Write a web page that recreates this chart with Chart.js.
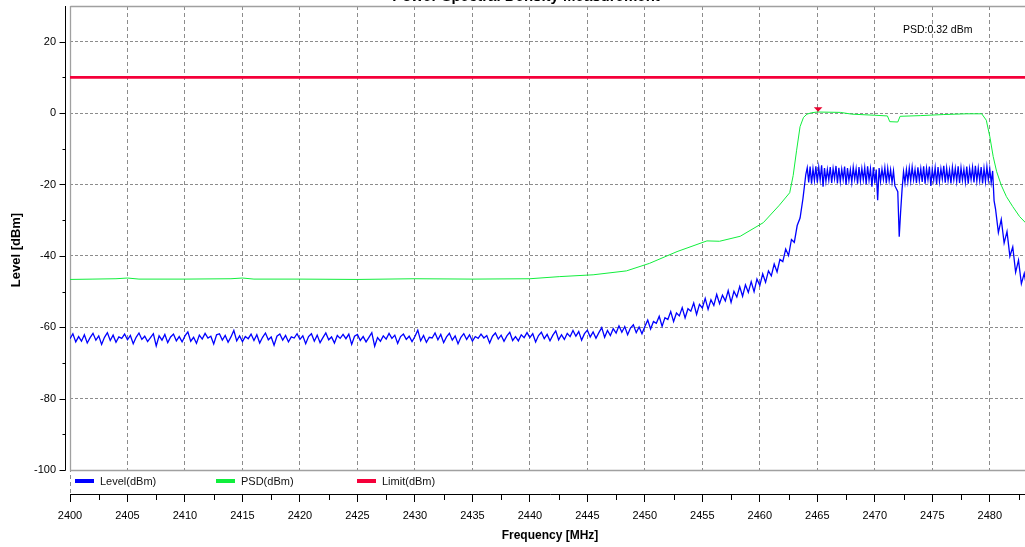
<!DOCTYPE html>
<html>
<head>
<meta charset="utf-8">
<title>Power Spectral Density Measurement</title>
<script src="https://cdn.jsdelivr.net/npm/chart.js@4.4.1/dist/chart.umd.min.js"></script>
<style>
  html, body { margin: 0; padding: 0; background: #fff; overflow: hidden; }
</style>
</head>
<body>
<canvas id="psd" width="1030" height="547"></canvas>
<script>
// sweep grid (MHz) for the Level trace: coarse on the skirts, finer in-band
const floorStart = 2400, floorStep = 0.25;
const bandStart = 2464, bandStep = 0.125;
const tailStart = 2480.5, tailStep = 0.25;

// Level(dBm), 2400 .. 2463.75, four readings per MHz
const floorLevel = [
  -63.2,-61.8,-64.1,-62.6, -63.9,-62.1,-64.4,-62.9, -61.7,-63.6,-62.4,-64.8, -62.8,-61.5,-63.7,-62.2, -64.2,-62.7,-63.1,-61.9, // 2400
  -63.5,-62.3,-64.6,-62.8, -61.6,-63.4,-62.5,-64.0, -62.9,-61.8,-65.2,-62.4, -63.6,-62.0,-64.3,-62.7, -61.9,-63.8,-62.6,-64.1, // 2405
  -62.4,-61.3,-63.9,-62.8, -64.5,-62.2,-63.3,-61.7, -63.0,-62.5,-64.7,-62.1, -61.8,-63.6,-62.3,-64.2, -62.7,-60.9,-63.8,-62.4, // 2410
  -64.0,-62.6,-63.2,-61.9, -63.7,-62.1,-64.4,-62.8, -61.6,-63.5,-62.7,-65.0, -62.5,-61.9,-63.6,-62.3, -64.1,-62.7,-63.0,-61.8, // 2415
  -63.4,-62.4,-64.6,-62.6, -61.8,-63.9,-62.2,-64.3, -62.9,-61.6,-63.5,-62.7, -64.4,-62.3,-63.1,-62.0, -63.2,-61.9,-64.8,-62.5, // 2420
  -62.0,-63.7,-62.6,-64.1, -62.8,-61.5,-65.3,-62.9, -63.9,-62.4,-63.3,-61.7, -63.1,-62.2,-64.5,-62.6, -61.9,-63.4,-62.5,-64.0, // 2425
  -62.6,-60.8,-63.8,-62.3, -64.2,-62.8,-63.0,-61.6, -63.5,-62.0,-64.3,-62.7, -61.7,-63.6,-62.4,-64.6, -62.8,-61.8,-63.4,-62.1, // 2430
  -63.9,-62.6,-63.1,-61.9, -63.0,-62.3,-64.4,-62.5, -61.6,-63.3,-62.2,-63.9, -62.4,-61.4,-63.7,-62.6, -63.8,-62.1,-62.9,-61.5, // 2435
  -62.9,-61.8,-64.1,-62.3, -61.4,-63.2,-62.0,-63.8, -62.2,-61.0,-63.5,-62.1, -63.4,-61.7,-62.6,-60.9, -62.5,-61.2,-63.6,-61.8, // 2440
  -60.8,-62.7,-61.3,-63.1, -61.5,-60.1,-62.8,-60.9, -62.3,-60.4,-61.6,-59.6, -61.4,-59.8,-62.1,-60.2, -59.3,-61.5,-59.9,-61.8, // 2445
  -59.8,-58.0,-60.5,-58.4, -58.9,-56.9,-59.7,-57.3, -57.8,-55.6,-58.4,-56.0, -56.8,-54.5,-57.4,-54.8, -55.5,-53.2,-56.4,-53.6, // 2450
  -54.6,-51.9,-55.0,-52.3, -53.9,-50.8,-53.4,-51.0, -52.6,-49.7,-53.0,-49.9, -51.5,-48.6,-51.3,-48.1, -50.2,-47.2,-50.0,-46.5, // 2455
  -48.3,-45.0,-47.4,-44.2, -45.6,-42.3,-44.5,-41.0, -41.6,-38.1,-39.9,-35.4, -36.2,-31.5,-29.4,-24.0                           // 2460
];

// Level(dBm), 2464 .. 2480.375, eight readings per MHz
const bandLevel = [
  -17.2,-15.3,-19.4,-15.0,-19.8,-15.6,-18.9,-14.9, // 2464
  -19.5,-15.2,-18.7,-14.6,-20.6,-15.4,-19.1,-15.8, // 2465
  -18.8,-15.1,-19.6,-15.5,-18.4,-14.8,-19.7,-15.3, // 2466
  -19.2,-15.7,-18.6,-15.0,-20.1,-15.4,-18.9,-15.9, // 2467
  -19.4,-15.2,-18.5,-15.6,-19.8,-15.1,-19.0,-15.5, // 2468
  -18.7,-15.3,-19.9,-14.9,-18.8,-15.6,-20.6,-15.2, // 2469
  -19.6,-15.8,-24.4,-15.4,-19.1,-15.7,-18.6,-15.3, // 2470
  -19.7,-15.5,-18.9,-15.9,-19.4,-16.2,-20.4,-21.2, // 2471
  -22.0,-34.6,-27.5,-21.3,-16.4,-19.5,-15.8,-19.2, // 2472
  -15.4,-19.0,-15.1,-18.7,-15.8,-19.6,-15.2,-18.9, // 2473
  -15.6,-19.3,-14.9,-19.8,-15.5,-18.6,-15.0,-20.4, // 2474
  -15.7,-18.8,-15.3,-19.9,-15.1,-19.2,-15.6,-18.5, // 2475
  -14.8,-19.5,-15.4,-18.9,-15.9,-19.7,-15.2,-18.7, // 2476
  -15.5,-19.1,-14.9,-19.6,-15.3,-18.8,-15.7,-19.3, // 2477
  -15.0,-19.8,-15.6,-18.6,-15.2,-19.4,-14.8,-19.0, // 2478
  -15.4,-18.9,-15.1,-19.7,-15.5,-19.2,-15.0,-18.8, // 2479
  -15.6,-19.5,-16.2,-24.5                          // 2480
];

// Level(dBm), 2480.5 .. 2483.5
const tailLevel = [-26.8,-33.5,-29.8,-36.4,-33.2,-40.1,-37.5,-44.6,-41.2,-47.8,-44.9,-49.6,-46.8];

// PSD(dBm) trace
const psdFreq = [2400,2402,2404,2405,2406,2410,2414,2415,2416,2420,2425,2430,2435,2440,2442.6,
  2445.5,2448.4,2450.4,2452.8,2455.4,2456.5,2458.3,2460.3,2461.7,2462.6,2462.9,2463.2,2463.5,2463.8,2464.1,
  2464.5,2465,2467,2468,2470,2471.1,2471.3,2472.0,2472.2,2474,2476,2478,2479.3,2479.7,2480.0,
  2480.3,2480.6,2481.0,2481.45,2482.0,2482.6,2483.5];
const psdLevel = [-46.6,-46.5,-46.4,-46.2,-46.5,-46.5,-46.4,-46.2,-46.5,-46.5,-46.6,-46.4,-46.5,-46.4,-45.8,
  -45.3,-44.2,-42.1,-38.8,-35.8,-35.9,-34.5,-30.7,-25.8,-22.3,-17.5,-10.4,-3.8,-1.2,-0.3,
  0.1,0.3,0.2,-0.3,-0.6,-0.8,-2.4,-2.5,-0.9,-0.7,-0.4,-0.2,-0.2,-2.0,-6.5,
  -12.2,-16.4,-20.2,-23.4,-26.2,-29.0,-32.0];

// Limit(dBm)
const limitFreq = [2400, 2483.5];
const limitLevel = [10, 10];

// peak marker
const markerFreq = [2465.07];
const markerLevel = [0.32];
const markerText = 'PSD:0.32 dBm';

// axes
const freqTicks = [2400,2405,2410,2415,2420,2425,2430,2435,2440,2445,2450,2455,2460,2465,2470,2475,2480];
const freqMinorTicks = [2402.5,2407.5,2412.5,2417.5,2422.5,2427.5,2432.5,2437.5,2442.5,2447.5,2452.5,2457.5,2462.5,2467.5,2472.5,2477.5,2482.5];
const levelTicks = [-100,-80,-60,-40,-20,0,20];
const levelMinorTicks = [-90,-70,-50,-30,-10,10];

const FONT = "'Liberation Sans', Arial, sans-serif";

const toPoints = (start, step, values) => values.map((v, i) => ({ x: start + i * step, y: v }));
const levelPoints = [].concat(
  toPoints(floorStart, floorStep, floorLevel),
  toPoints(bandStart, bandStep, bandLevel),
  toPoints(tailStart, tailStep, tailLevel)
);
const psdPoints = psdFreq.map((f, i) => ({ x: f, y: psdLevel[i] }));
const limitPoints = limitFreq.map((f, i) => ({ x: f, y: limitLevel[i] }));

const framePlugin = {
  id: 'frame',
  beforeDatasetsDraw(chart) {
    const { ctx, chartArea: a, scales: { x, y } } = chart;
    const yb = Math.round(y.getPixelForValue(levelTicks[0]));
    ctx.save();
    // legend band under the plot
    ctx.fillStyle = '#fff';
    ctx.fillRect(a.left + 1, yb + 1, a.right - a.left, a.bottom - yb - 1);
    // plot frame
    ctx.strokeStyle = '#a0a0a0';
    ctx.lineWidth = 1.3;
    ctx.beginPath();
    ctx.moveTo(a.left + 0.5, a.top + 0.5);
    ctx.lineTo(a.right, a.top + 0.5);
    ctx.moveTo(a.left + 0.5, a.top);
    ctx.lineTo(a.left + 0.5, yb + 0.5);
    ctx.lineTo(a.right, yb + 0.5);
    ctx.stroke();
    // y axis line with ticks
    const ax = a.left - 4.5;
    ctx.strokeStyle = '#000';
    ctx.lineWidth = 1;
    ctx.beginPath();
    ctx.moveTo(ax, a.top);
    ctx.lineTo(ax, yb + 0.5);
    levelTicks.forEach(v => {
      const py = Math.round(y.getPixelForValue(v)) + 0.5;
      ctx.moveTo(ax, py); ctx.lineTo(ax - 6, py);
    });
    levelMinorTicks.forEach(v => {
      const py = Math.round(y.getPixelForValue(v)) + 0.5;
      ctx.moveTo(ax, py); ctx.lineTo(ax - 3, py);
    });
    // x minor ticks
    freqMinorTicks.forEach(v => {
      const px = Math.round(x.getPixelForValue(v)) + 0.5;
      ctx.moveTo(px, a.bottom); ctx.lineTo(px, a.bottom + 6);
    });
    ctx.stroke();
    ctx.restore();
  },
  afterDatasetsDraw(chart) {
    const { ctx, chartArea: a, scales: { x, y } } = chart;
    const yb = Math.round(y.getPixelForValue(levelTicks[0]));
    ctx.save();
    // legend
    ctx.font = '11px ' + FONT;
    ctx.textBaseline = 'middle';
    ctx.textAlign = 'left';
    chart.data.datasets.forEach((ds, i) => {
      const lx = a.left + 5 + i * 141;
      ctx.fillStyle = ds.borderColor;
      ctx.fillRect(lx, yb + 9, 19, 4);
      ctx.fillStyle = '#111';
      ctx.fillText(ds.label, lx + 25, yb + 11.5);
    });
    // peak marker
    markerFreq.forEach((f, i) => {
      const px = x.getPixelForValue(f);
      const py = y.getPixelForValue(markerLevel[i]);
      ctx.fillStyle = '#e8002d';
      ctx.beginPath();
      ctx.moveTo(px - 4.3, py - 4.8);
      ctx.lineTo(px + 4.3, py - 4.8);
      ctx.lineTo(px, py - 0.3);
      ctx.closePath();
      ctx.fill();
    });
    // marker readout
    ctx.fillStyle = '#000';
    ctx.font = '10.5px ' + FONT;
    ctx.fillText(markerText, x.getPixelForValue(2472.45), y.getPixelForValue(23.2));
    // chart title (cut off by the top edge, as in the source)
    ctx.font = 'bold 15px ' + FONT;
    ctx.textAlign = 'center';
    ctx.textBaseline = 'alphabetic';
    ctx.fillText('Power Spectral Density Measurement', 526, 0.5);
    ctx.restore();
  }
};

new Chart(document.getElementById('psd'), {
  type: 'line',
  data: {
    datasets: [
      { label: 'Level(dBm)', data: levelPoints, borderColor: '#0000ff', borderWidth: 1.3, pointRadius: 0, tension: 0 },
      { label: 'PSD(dBm)', data: psdPoints, borderColor: '#10ee3c', borderWidth: 1, pointRadius: 0, tension: 0 },
      { label: 'Limit(dBm)', data: limitPoints, borderColor: '#f5003a', borderWidth: 2.6, pointRadius: 0 }
    ]
  },
  options: {
    responsive: false,
    animation: false,
    devicePixelRatio: 1,
    events: [],
    layout: { padding: { top: 6, left: 0, right: 0, bottom: 0 } },
    plugins: { legend: { display: false }, tooltip: { enabled: false }, title: { display: false } },
    scales: {
      x: {
        type: 'linear',
        min: 2400,
        max: 2483.5,
        afterFit(s) { s.height = 53; },
        afterBuildTicks(s) { s.ticks = freqTicks.map(v => ({ value: v })); },
        ticks: {
          font: { family: FONT, size: 11 }, color: '#000', padding: 7, maxRotation: 0, autoSkip: false,
          callback: v => String(v)
        },
        grid: { color: '#8c8c8c', lineWidth: 1, tickLength: 8, tickColor: '#000', tickBorderDash: [] },
        border: { display: true, color: '#000', width: 1, dash: [4, 3] },
        title: {
          display: true, text: 'Frequency [MHz]', color: '#000',
          font: { family: FONT, size: 12, weight: 'bold' }, padding: { top: 0, bottom: 4 }
        }
      },
      y: {
        min: -106.7,
        max: 30,
        afterFit(s) { s.width = 70; s.paddingTop = 0; s.paddingBottom = 0; },
        afterBuildTicks(s) { s.ticks = levelTicks.map(v => ({ value: v })); },
        ticks: { font: { family: FONT, size: 11, lineHeight: 1 }, color: '#000', padding: 14, callback: v => String(v) },
        grid: { color: '#8c8c8c', lineWidth: 1, drawTicks: false },
        border: { display: false, dash: [3, 2] },
        title: {
          display: true, text: 'Level [dBm]', color: '#000',
          font: { family: FONT, size: 13, weight: 'bold' }, padding: { top: 9, bottom: 0 }
        }
      }
    }
  },
  plugins: [framePlugin]
});
</script>
</body>
</html>
